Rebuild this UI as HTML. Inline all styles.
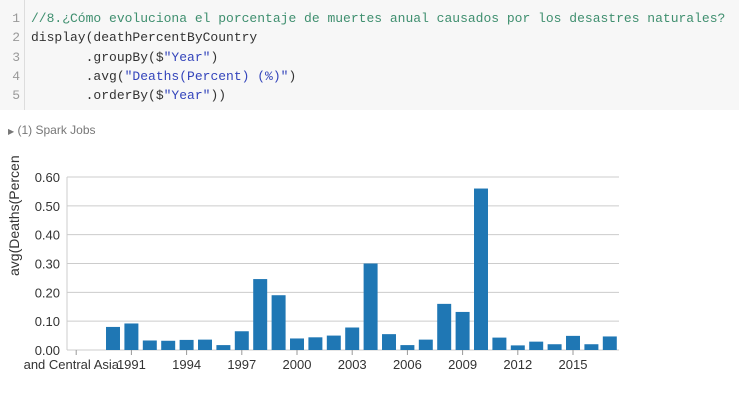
<!DOCTYPE html>
<html><head><meta charset="utf-8">
<style>
body{margin:0;width:739px;height:405px;background:#fff;overflow:hidden;font-family:"Liberation Sans",sans-serif;position:relative}
#code{position:absolute;left:0;top:0;width:739px;height:110px;background:#f7f7f7}
#gutter{position:absolute;left:24px;top:0;width:1px;height:110px;background:#ddd}
.ln{position:absolute;left:8px;width:12px;text-align:right;font:13px "Liberation Mono",monospace;color:#999}
.cl{position:absolute;left:31px;font:13px "Liberation Mono",monospace;color:#333;white-space:pre}
.cm{color:#3f8f6f}.st{color:#3344bb}
#spark{position:absolute;left:8px;top:123px;font-size:12px;color:#777}
</style></head><body>
<div id="code">
<div id="gutter"></div>
<div class="ln" style="top:11px">1</div>
<div class="ln" style="top:30px">2</div>
<div class="ln" style="top:50px">3</div>
<div class="ln" style="top:69px">4</div>
<div class="ln" style="top:88px">5</div>
<div class="cl cm" style="top:11px">//8.¿Cómo evoluciona el porcentaje de muertes anual causados por los desastres naturales?</div>
<div class="cl" style="top:30px">display(deathPercentByCountry</div>
<div class="cl" style="top:50px">       .groupBy($<span class="st">"Year"</span>)</div>
<div class="cl" style="top:69px">       .avg(<span class="st">"Deaths(Percent) (%)"</span>)</div>
<div class="cl" style="top:88px">       .orderBy($<span class="st">"Year"</span>))</div>
</div>
<div id="spark"><span style="font-size:8px">&#9654;</span> (1) Spark Jobs</div>
<svg id="chart" width="739" height="245" viewBox="0 155 739 245" style="position:absolute;left:0;top:155px"></svg>
<script>
const categories=["and Central Asia","1989","1990","1991","1992","1993","1994","1995","1996","1997","1998","1999","2000","2001","2002","2003","2004","2005","2006","2007","2008","2009","2010","2011","2012","2013","2014","2015","2016","2017"];
const values=[0,0,0.08,0.092,0.033,0.032,0.035,0.036,0.017,0.065,0.246,0.19,0.04,0.044,0.05,0.078,0.30,0.055,0.017,0.036,0.16,0.132,0.56,0.043,0.016,0.029,0.02,0.049,0.02,0.047];
const yTicks=[0,0.1,0.2,0.3,0.4,0.5,0.6];
const xLabelEvery=3;
const svg=document.getElementById('chart');
const NS='http://www.w3.org/2000/svg';
const L=67,R=619,T=177,B=350,yMax=0.6;
const step=(R-L)/categories.length;
const y=v=>B-(v/yMax)*(B-T);
const xc=i=>L+step*(i+0.5);
function mk(t,a){const e=document.createElementNS(NS,t);for(const k in a)e.setAttribute(k,a[k]);svg.appendChild(e);return e;}
yTicks.forEach(t=>{
  const g=mk('line',{x1:L,x2:R,y1:y(t),y2:y(t),stroke:'#ccc','stroke-width':1});
  
  
  const tx=mk('text',{x:60,y:y(t)+5,'text-anchor':'end','font-size':13,fill:'#333','font-family':'Liberation Sans, sans-serif'});
  tx.textContent=t.toFixed(2);
  
  
});
const ax=mk('line',{x1:L,x2:L,y1:T,y2:B,stroke:'#ccc'});


const bw=step*0.76;
values.forEach((v,i)=>{
  if(v<=0)return;
  const r=mk('rect',{x:xc(i)-bw/2,y:y(v),width:bw,height:B-y(v),fill:'#1f77b4'});
  
  
});
categories.forEach((c,i)=>{
  if(i%xLabelEvery!==0)return;
  const tk=mk('line',{x1:xc(i),x2:xc(i),y1:B,y2:B+5,stroke:'#999'});
  
  
  const tx=mk('text',{x:i===0?119:xc(i),y:B+19,'text-anchor':i===0?'end':'middle','font-size':13,fill:'#333','font-family':'Liberation Sans, sans-serif'});
  tx.textContent=c;
  
  
});
const yt=mk('text',{x:0,y:0,'font-size':14,fill:'#333','font-family':'Liberation Sans, sans-serif',transform:'translate(19,276) rotate(-90)'});
yt.textContent='avg(Deaths(Percent) (%))';


</script>
</body></html>
